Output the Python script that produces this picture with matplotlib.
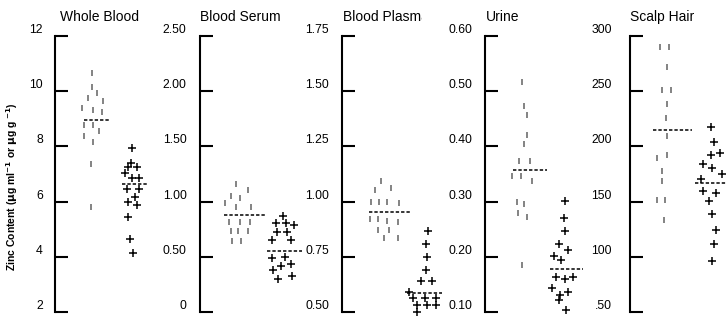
import numpy as np
import matplotlib
matplotlib.use("Agg")
import matplotlib.pyplot as plt
from matplotlib.patches import Rectangle
from matplotlib.transforms import offset_copy

plt.rcParams['font.family'] = ['Liberation Sans', 'DejaVu Sans']

# ---- data ----
panels = ['Whole Blood', 'Blood Serum', 'Blood Plasma', 'Urine', 'Scalp Hair']
y_limits = [(2, 12), (0, 2.5), (0.5, 1.75), (0.1, 0.6), (50, 300)]
tick_labels = [
    ['2', '4', '6', '8', '10', '12'],
    ['0', '0.50', '1.00', '1.50', '2.00', '2.50'],
    ['0.50', '0.75', '1.00', '1.25', '1.50', '1.75'],
    ['0.10', '0.20', '0.30', '0.40', '0.50', '0.60'],
    ['.50', '100', '150', '200', '250', '300'],
]

# group A (grey bars) and group B (crosses): values and jitter column
vals_a = [
    [10.67, 10.16, 9.93, 9.75, 9.65, 9.38, 9.32, 9.24, 8.78, 8.78, 8.56, 8.38, 8.17, 7.35, 5.82],
    [1.157, 1.105, 1.051, 1.03, 0.985, 0.954, 0.954, 0.818, 0.818, 0.818, 0.736, 0.736, 0.736, 0.646, 0.646],
    [1.095, 1.053, 1.06, 1.0, 1.0, 1.0, 0.992, 0.919, 0.919, 0.912, 0.908, 0.871, 0.871, 0.833, 0.833],
    [0.517, 0.473, 0.457, 0.42, 0.405, 0.373, 0.373, 0.347, 0.347, 0.337, 0.299, 0.296, 0.279, 0.273, 0.186],
    [289.9, 289.9, 271.7, 251.4, 251.4, 238.1, 225.7, 209.8, 189.2, 192.2, 177.4, 168.4, 151.8, 151.8, 132.9],
]
jit_a = [
    [37, 37, 42, 33, 48, 27, 38, 47, 29, 38, 44, 29, 38, 36, 36],
    [36, 48, 31, 40, 25, 36, 51, 29, 40, 50, 31, 38, 48, 32, 41],
    [39, 33, 49, 29, 37, 45, 57, 28, 36, 45, 56, 36, 47, 42, 56],
    [37, 39, 42, 42, 39, 34, 45, 27, 36, 47, 32, 39, 33, 42, 37],
    [30, 39, 37, 32, 41, 37, 36, 37, 27, 37, 32, 32, 27, 35, 34],
]
vals_b = [
    [7.93, 7.41, 7.26, 7.26, 7.03, 6.84, 6.87, 6.45, 6.45, 6.16, 5.98, 5.88, 5.43, 4.64, 4.15],
    [0.874, 0.806, 0.806, 0.788, 0.729, 0.729, 0.649, 0.649, 0.486, 0.501, 0.419, 0.435, 0.383, 0.296, 0.326],
    [0.867, 0.81, 0.749, 0.689, 0.64, 0.64, 0.59, 0.563, 0.563, 0.563, 0.532, 0.532, 0.532, 0.50],
    [0.301, 0.27, 0.247, 0.223, 0.213, 0.202, 0.194, 0.163, 0.16, 0.163, 0.144, 0.131, 0.136, 0.121, 0.103],
    [217.4, 204.4, 192.5, 194, 183.8, 180.4, 175.4, 170.2, 159.3, 157.8, 150.3, 139, 124.6, 111.3, 96.2],
]
jit_b = [
    [77, 76, 73, 82, 70, 77, 84, 72, 84, 80, 73, 82, 73, 75, 78],
    [83, 76, 86, 94, 77, 87, 72, 91, 72, 85, 81, 91, 73, 78, 92],
    [86, 84, 85, 84, 79, 90, 67, 71, 83, 94, 75, 85, 94, 75],
    [80, 79, 80, 74, 83, 69, 76, 71, 80, 88, 67, 75, 83, 74, 81],
    [81, 84, 81, 90, 73, 82, 92, 71, 73, 86, 79, 82, 86, 84, 82],
]
mean_a = [8.96, 0.879, 0.954, 0.358, 215.1]
mean_b = [6.64, 0.55, 0.586, 0.177, 166.6]

# ---- layout (pixels) ----
W, H, DPI = 727, 316, 100
spine_x = [55, 199.5, 342, 485, 630]
ax_top, ax_bot, ax_w = 36, 312, 110
line_a = [(29, 55), (24, 65.5), (27, 69), (28, 62), (23, 62)]
line_b = [(67, 93), (67.5, 102), (65, 100), (65, 98), (65, 97)]
label_pad = [12, 13, 13, 13, 18]
title_dx = [5, 1, 1, 1, 0]
pt = 72 / DPI

fig = plt.figure(figsize=(W / DPI, H / DPI), dpi=DPI)
dash = (0, (2.2, 1.3))

for i, name in enumerate(panels):
    ax = fig.add_axes([spine_x[i] / W, (H - ax_bot) / H, ax_w / W, (ax_bot - ax_top) / H])
    lo, hi = y_limits[i]
    ax.set_xlim(0, ax_w)
    ax.set_ylim(lo, hi)
    for s in ['top', 'right', 'bottom']:
        ax.spines[s].set_visible(False)
    ax.spines['left'].set_linewidth(1.5)
    ax.set_xticks([])
    ticks = np.linspace(lo, hi, 6)
    ax.set_yticks(ticks)
    ax.tick_params(axis='y', direction='in', length=13 * pt, width=1.5,
                   labelleft=False)
    for t, lab in zip(ticks, tick_labels[i]):
        ax.annotate(lab, xy=(0, t), xycoords=('axes fraction', 'data'),
                    xytext=(-label_pad[i] * pt, 6 * pt), textcoords='offset points',
                    ha='right', va='center', fontsize=8.8, annotation_clip=False)

    ax.plot(jit_a[i], vals_a[i], ls='none', marker='|', ms=5, mew=1.3,
            color='#7a7a7a', clip_on=False)
    ax.plot(jit_b[i], vals_b[i], ls='none', marker='+', ms=5.2, mew=1.1,
            color='black', clip_on=False)
    ax.plot(line_a[i], [mean_a[i]] * 2, color='black', lw=1.1, ls=dash, clip_on=False)
    ax.plot(line_b[i], [mean_b[i]] * 2, color='black', lw=1.1, ls=dash, clip_on=False)

    ttl = ax.text(0, 1, name, transform=offset_copy(ax.transAxes, fig=fig, x=title_dx[i], y=19, units='dots'),
                  ha='left', va='center', fontsize=10, clip_on=True)
    clip = Rectangle(((spine_x[i] + title_dx[i]) / W, 0.85), 79 / W, 0.15, transform=fig.transFigure)
    ttl.set_clip_path(clip)

fig.text(12 / W, (H - 187) / H, r'Zinc Content ($\mathbf{\mu}$g ml$^{\mathbf{-1}}$ or $\mathbf{\mu}$g g $^{\mathbf{-1}}$)',
         rotation=90, ha='center', va='center', fontsize=7.5, fontweight='bold',
         family=['Liberation Sans Narrow', 'Liberation Sans', 'DejaVu Sans'])

fig.savefig('out.png', dpi=DPI)
